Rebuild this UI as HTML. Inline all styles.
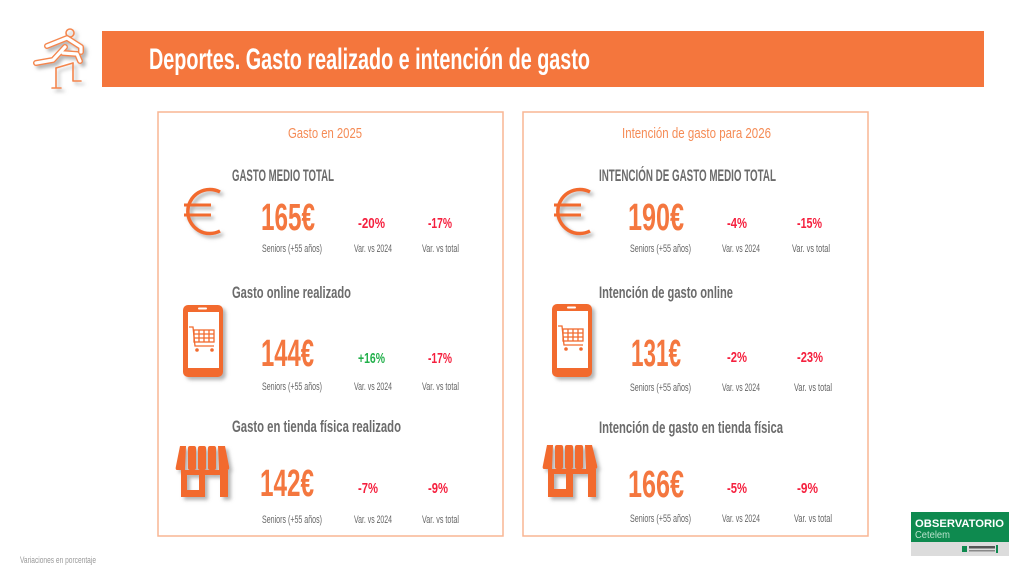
<!DOCTYPE html>
<html><head><meta charset="utf-8"><style>
html,body{margin:0;padding:0;background:#fff;}
svg{display:block;}
text{font-family:"Liberation Sans Narrow","Liberation Sans",sans-serif;}
.t{font-weight:bold;fill:#fff;}
.pt{fill:#F58B55;font-size:15px;}
.h{fill:#6b6b6b;font-weight:bold;font-size:17px;}
.n{fill:#F4773F;font-weight:bold;font-size:38px;}
.r{fill:#F5203E;font-weight:bold;font-size:15px;}
.g{fill:#22B04B;font-weight:bold;font-size:15px;}
.l{fill:#666;font-size:11px;}
</style></head><body>
<svg width="1024" height="577" viewBox="0 0 1024 577" xmlns="http://www.w3.org/2000/svg">
<defs>
<filter id="sh" x="-30%" y="-30%" width="160%" height="160%">
<feDropShadow dx="3" dy="3" stdDeviation="1.8" flood-color="#777" flood-opacity="0.55"/>
</filter>
</defs>

<!-- header icon -->
<g fill="none" stroke-linecap="round" stroke-linejoin="round" filter="url(#sh)">
<circle cx="70" cy="33" r="4" stroke="#F4864E" stroke-width="1.6"/>
<g stroke="#F4864E" stroke-width="6">
<path d="M47 46 L67 38 L81 47 L81 52"/>
<path d="M36 63 L53 60 L65 47"/>
<path d="M63 53 L77 54 L80 61"/>
</g>
<g stroke="#fff" stroke-width="3.2">
<path d="M47 46 L67 38 L81 47 L81 52"/>
<path d="M36 63 L53 60 L65 47"/>
<path d="M63 53 L77 54 L80 61"/>
</g>
<g stroke="#F4864E" stroke-width="1.6">
<path d="M56 68 L56 88 M52 88 L61 88"/>
<path d="M56 68 L73 63"/>
<path d="M73 63 L73 81 L81 81"/>
</g>
</g>

<!-- header bar -->
<rect x="102" y="31" width="882" height="56" fill="#F4763D"/>
<text class="t" x="149" y="69" font-size="30" textLength="441" lengthAdjust="spacingAndGlyphs">Deportes. Gasto realizado e intención de gasto</text>

<!-- panels -->
<rect x="158" y="112" width="345" height="424" fill="none" stroke="#F9B593" stroke-width="1.5"/>
<rect x="523" y="112" width="345" height="424" fill="none" stroke="#F9B593" stroke-width="1.5"/>

<text class="pt" x="288" y="138" textLength="74" lengthAdjust="spacingAndGlyphs">Gasto en 2025</text>
<text class="pt" x="622" y="138" textLength="149" lengthAdjust="spacingAndGlyphs">Intención de gasto para 2026</text>

<!-- LEFT PANEL -->
<text class="h" x="232" y="181" textLength="102" lengthAdjust="spacingAndGlyphs">GASTO MEDIO TOTAL</text>
<g filter="url(#sh)">
<path d="M220 192 A22 22 0 1 0 220 231" fill="none" stroke="#F26B2E" stroke-width="3.5"/>
<rect x="184" y="203.5" width="27" height="3" fill="#F26B2E"/>
<rect x="184" y="213.5" width="27" height="3" fill="#F26B2E"/>
</g>
<text class="n" x="261" y="230" textLength="54" lengthAdjust="spacingAndGlyphs">165€</text>
<text class="r" x="358" y="228" textLength="27" lengthAdjust="spacingAndGlyphs">-20%</text>
<text class="r" x="428" y="228" textLength="24" lengthAdjust="spacingAndGlyphs">-17%</text>
<text class="l" x="262" y="252" textLength="60" lengthAdjust="spacingAndGlyphs">Seniors (+55 años)</text>
<text class="l" x="354" y="252" textLength="38" lengthAdjust="spacingAndGlyphs">Var. vs 2024</text>
<text class="l" x="422" y="252" textLength="37" lengthAdjust="spacingAndGlyphs">Var. vs total</text>

<text class="h" x="232" y="298" textLength="119" lengthAdjust="spacingAndGlyphs">Gasto online realizado</text>
<g filter="url(#sh)">
<rect x="183" y="305" width="40" height="72" rx="5" fill="#F26B2E"/>
<rect x="188" y="312" width="31" height="56" fill="#fff"/>
<rect x="198" y="307.5" width="9" height="2" rx="1" fill="#fff"/>
<g fill="none" stroke="#F26B2E" stroke-width="1.3">
<path d="M189 327 L193 327 L195 346 L214 346"/>
<rect x="194" y="330" width="20" height="12"/>
<path d="M194 334 H214 M194 338 H214 M199 330 V342 M204 330 V342 M209 330 V342"/>
</g>
<circle cx="197" cy="350" r="1.8" fill="#F26B2E"/>
<circle cx="212" cy="350" r="1.8" fill="#F26B2E"/>
</g>
<text class="n" x="261" y="366" textLength="53" lengthAdjust="spacingAndGlyphs">144€</text>
<text class="g" x="358" y="363" textLength="27" lengthAdjust="spacingAndGlyphs">+16%</text>
<text class="r" x="428" y="363" textLength="24" lengthAdjust="spacingAndGlyphs">-17%</text>
<text class="l" x="262" y="390" textLength="60" lengthAdjust="spacingAndGlyphs">Seniors (+55 años)</text>
<text class="l" x="354" y="390" textLength="38" lengthAdjust="spacingAndGlyphs">Var. vs 2024</text>
<text class="l" x="422" y="390" textLength="37" lengthAdjust="spacingAndGlyphs">Var. vs total</text>

<text class="h" x="232" y="432" textLength="169" lengthAdjust="spacingAndGlyphs">Gasto en tienda física realizado</text>
<g filter="url(#sh)" fill="#F26B2E">
<path d="M180 446 H186 L185 470 H177 Q175 470 176 466 Z"/>
<rect x="188" y="446" width="8" height="24" rx="2"/>
<rect x="198" y="446" width="8" height="24" rx="2"/>
<rect x="208" y="446" width="8" height="24" rx="2"/>
<path d="M218 446 H225 L229 466 Q230 470 227 470 H219 Z"/>
<path d="M181 470 H228 V497 H220 V475 H205 V497 H181 Z M187 475 V490 H199 V475 Z" fill-rule="evenodd"/>
</g>
<text class="n" x="260" y="496" textLength="54" lengthAdjust="spacingAndGlyphs">142€</text>
<text class="r" x="358" y="493" textLength="20" lengthAdjust="spacingAndGlyphs">-7%</text>
<text class="r" x="428" y="493" textLength="20" lengthAdjust="spacingAndGlyphs">-9%</text>
<text class="l" x="262" y="523" textLength="60" lengthAdjust="spacingAndGlyphs">Seniors (+55 años)</text>
<text class="l" x="354" y="523" textLength="38" lengthAdjust="spacingAndGlyphs">Var. vs 2024</text>
<text class="l" x="422" y="523" textLength="37" lengthAdjust="spacingAndGlyphs">Var. vs total</text>

<!-- RIGHT PANEL -->
<text class="h" x="599" y="181" textLength="177" lengthAdjust="spacingAndGlyphs">INTENCIÓN DE GASTO MEDIO TOTAL</text>
<g filter="url(#sh)">
<path d="M590 192 A22 22 0 1 0 590 231" fill="none" stroke="#F26B2E" stroke-width="3.5"/>
<rect x="554" y="203.5" width="27" height="3" fill="#F26B2E"/>
<rect x="554" y="213.5" width="27" height="3" fill="#F26B2E"/>
</g>
<text class="n" x="628" y="230" textLength="56" lengthAdjust="spacingAndGlyphs">190€</text>
<text class="r" x="727" y="228" textLength="20" lengthAdjust="spacingAndGlyphs">-4%</text>
<text class="r" x="797" y="228" textLength="25" lengthAdjust="spacingAndGlyphs">-15%</text>
<text class="l" x="630" y="252" textLength="61" lengthAdjust="spacingAndGlyphs">Seniors (+55 años)</text>
<text class="l" x="722" y="252" textLength="38" lengthAdjust="spacingAndGlyphs">Var. vs 2024</text>
<text class="l" x="792" y="252" textLength="38" lengthAdjust="spacingAndGlyphs">Var. vs total</text>

<text class="h" x="599" y="298" textLength="134" lengthAdjust="spacingAndGlyphs">Intención de gasto online</text>
<g filter="url(#sh)">
<rect x="552" y="304" width="40" height="73" rx="5" fill="#F26B2E"/>
<rect x="557" y="311" width="31" height="57" fill="#fff"/>
<rect x="567" y="306.5" width="9" height="2" rx="1" fill="#fff"/>
<g fill="none" stroke="#F26B2E" stroke-width="1.3">
<path d="M558 326 L562 326 L564 345 L583 345"/>
<rect x="563" y="329" width="20" height="12"/>
<path d="M563 333 H583 M563 337 H583 M568 329 V341 M573 329 V341 M578 329 V341"/>
</g>
<circle cx="566" cy="349" r="1.8" fill="#F26B2E"/>
<circle cx="581" cy="349" r="1.8" fill="#F26B2E"/>
</g>
<text class="n" x="631" y="366" textLength="50" lengthAdjust="spacingAndGlyphs">131€</text>
<text class="r" x="727" y="362" textLength="20" lengthAdjust="spacingAndGlyphs">-2%</text>
<text class="r" x="797" y="362" textLength="26" lengthAdjust="spacingAndGlyphs">-23%</text>
<text class="l" x="630" y="391" textLength="61" lengthAdjust="spacingAndGlyphs">Seniors (+55 años)</text>
<text class="l" x="722" y="391" textLength="38" lengthAdjust="spacingAndGlyphs">Var. vs 2024</text>
<text class="l" x="794" y="391" textLength="38" lengthAdjust="spacingAndGlyphs">Var. vs total</text>

<text class="h" x="599" y="433" textLength="184" lengthAdjust="spacingAndGlyphs">Intención de gasto en tienda física</text>
<g filter="url(#sh)" fill="#F26B2E">
<path d="M547 445 H553 L552 469 H544 Q542 469 543 465 Z"/>
<rect x="555" y="445" width="8" height="24" rx="2"/>
<rect x="565" y="445" width="8" height="24" rx="2"/>
<rect x="575" y="445" width="8" height="24" rx="2"/>
<path d="M585 445 H592 L597 465 Q598 469 595 469 H586 Z"/>
<path d="M548 469 H596 V497 H588 V474 H573 V497 H548 Z M554 474 V489 H566 V474 Z" fill-rule="evenodd"/>
</g>
<text class="n" x="628" y="497" textLength="56" lengthAdjust="spacingAndGlyphs">166€</text>
<text class="r" x="727" y="493" textLength="20" lengthAdjust="spacingAndGlyphs">-5%</text>
<text class="r" x="797" y="493" textLength="21" lengthAdjust="spacingAndGlyphs">-9%</text>
<text class="l" x="630" y="522" textLength="61" lengthAdjust="spacingAndGlyphs">Seniors (+55 años)</text>
<text class="l" x="722" y="522" textLength="38" lengthAdjust="spacingAndGlyphs">Var. vs 2024</text>
<text class="l" x="794" y="522" textLength="38" lengthAdjust="spacingAndGlyphs">Var. vs total</text>

<!-- footnote -->
<text x="20" y="563" font-size="9" fill="#999" textLength="76" lengthAdjust="spacingAndGlyphs">Variaciones en porcentaje</text>

<!-- logo -->
<rect x="911" y="512" width="98" height="30" fill="#0E8A4F"/>
<rect x="911" y="542" width="98" height="14" fill="#dcdcdc"/>
<text x="915" y="527" font-size="11" font-weight="bold" fill="#fff" style="font-family:'Liberation Sans',sans-serif" textLength="89" lengthAdjust="spacingAndGlyphs">OBSERVATORIO</text>
<text x="915" y="538" font-size="10" fill="#b9e3cc" style="font-family:'Liberation Sans',sans-serif" textLength="35" lengthAdjust="spacingAndGlyphs">Cetelem</text>
<rect x="962" y="546" width="5" height="6" fill="#0E8A4F"/>
<rect x="969" y="546" width="26" height="2.5" fill="#555"/>
<rect x="969" y="550" width="26" height="1.5" fill="#888"/>
<rect x="996" y="545" width="2" height="8" fill="#0E8A4F"/>
</svg>
</body></html>
